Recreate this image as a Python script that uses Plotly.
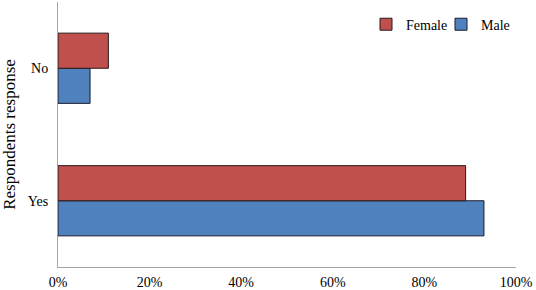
import plotly.graph_objects as go

categories = ["Yes", "No"]
male = [0.93, 0.07]
female = [0.89, 0.11]
x_ticks = [0, 0.2, 0.4, 0.6, 0.8, 1.0]
x_tick_labels = ["0%", "20%", "40%", "60%", "80%", "100%"]

fig = go.Figure()
fig.add_trace(go.Bar(y=categories, x=male, name="Male", orientation="h",
                     marker=dict(color="#4F81BD", line=dict(color="#1a1a2e", width=1))))
fig.add_trace(go.Bar(y=categories, x=female, name="Female", orientation="h",
                     marker=dict(color="#C0504D", line=dict(color="#2a1a1a", width=1))))

fig.update_layout(
    width=536, height=290,
    margin=dict(l=58, r=20, t=2, b=23, autoexpand=False),
    paper_bgcolor="white", plot_bgcolor="white",
    barmode="group", bargap=0.47, bargroupgap=0,
    font=dict(family="Times New Roman, Liberation Serif, serif", size=14, color="black"),
    legend=dict(orientation="h", traceorder="reversed", x=1.0, y=0.975,
                xanchor="right", yanchor="top", font=dict(size=14),
                itemwidth=30, entrywidth=30, bgcolor="rgba(0,0,0,0)"),
    showlegend=True,
)
fig.update_xaxes(range=[0, 1.0], tickvals=x_ticks, ticktext=x_tick_labels,
                 showgrid=False, zeroline=False, showline=True, linecolor="#a6a6a6",
                 linewidth=1, ticks="", ticklabelstandoff=2, automargin=False)
fig.update_yaxes(range=[-0.5, 1.5], showgrid=False, zeroline=False, showline=True,
                 linecolor="#a6a6a6", linewidth=1, ticks="", ticklabelstandoff=6,
                 automargin=False,
                 title=dict(text="Respondents response", font=dict(size=17), standoff=10))

fig.write_html("out.html", config={"displayModeBar": False},
               post_script="document.body.style.margin='0';document.body.style.overflow='hidden';")
